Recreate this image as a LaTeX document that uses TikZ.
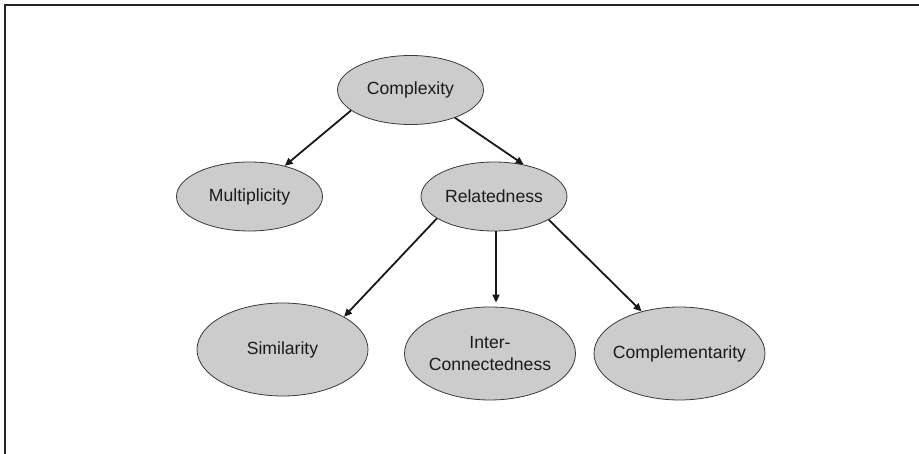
\documentclass[tikz,border=0pt]{standalone}
\usepackage{fontspec}
\setmainfont{Liberation Sans}
\usetikzlibrary{shapes.geometric,arrows.meta}
\definecolor{ellfill}{HTML}{CCCCCC}
\definecolor{ellline}{HTML}{3A3A3A}
\definecolor{txt}{HTML}{1A1A1A}
\tikzset{
  bubble/.style={ellipse, draw=ellline, fill=ellfill, line width=0.8pt, inner sep=0pt},
  small/.style={bubble, minimum width=146pt, minimum height=69pt},
  big/.style={bubble, minimum width=171pt, minimum height=93pt},
  lbl/.style={font=\fontsize{17.6}{22}\selectfont, text=txt, align=center, inner sep=0pt},
  arr/.style={line width=1.8pt, black!90, -{Triangle[length=8pt,width=7pt]}},
  frame/.style={line width=1.6pt, black!85}
}
\begin{document}
\begin{tikzpicture}[x=1pt,y=-1pt]
\useasboundingbox (0,0) rectangle (919,454);
\draw[frame] (5,454) -- (5,5) -- (919,5);
\node[small, label={[lbl]center:Complexity}] (cx) at (410.5,90) {};
\node[small, label={[lbl]center:Multiplicity}] (mu) at (249.5,196.5) {};
\node[small, label={[lbl]center:Relatedness}] (re) at (494,196.5) {};
\node[big, label={[lbl]center:Similarity}] (si) at (282.5,349.5) {};
\node[big, label={[lbl]center:Inter-\\Connectedness}] (ic) at (490,353.5) {};
\node[big, label={[lbl]center:Complementarity}] (co) at (679.5,353.5) {};
\draw[arr] (cx.199) -- (mu.41.5);
\draw[arr] (cx.328) -- (re.47);
\draw[arr] (re.201) -- (si.28);
\draw[arr, shorten >=4pt] ([xshift=2pt]re.south) -- ([xshift=2pt]re.south |- ic.north);
\draw[arr] (re.337) -- (co.132);
\end{tikzpicture}
\end{document}
